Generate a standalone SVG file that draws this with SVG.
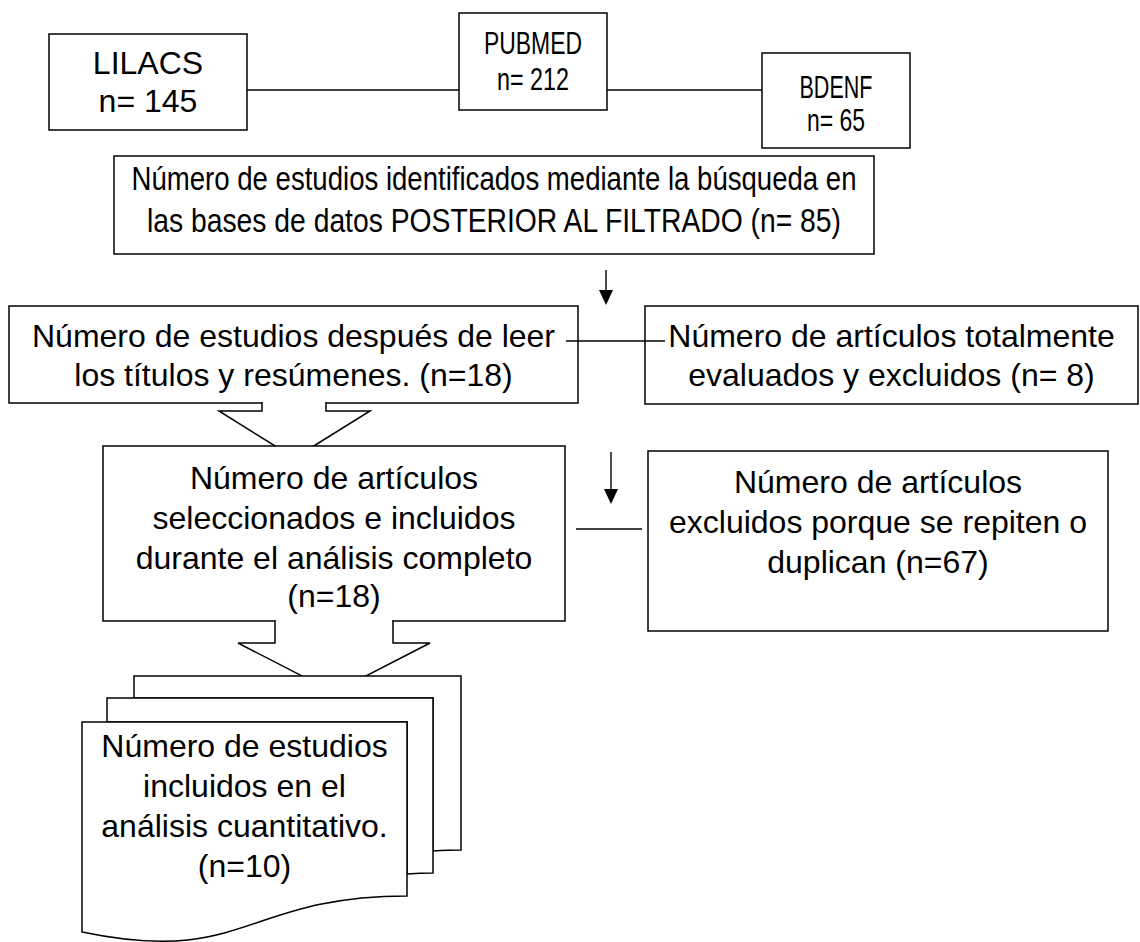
<svg xmlns="http://www.w3.org/2000/svg" width="1140" height="942" viewBox="0 0 1140 942">
<style>
.box{fill:#fff;stroke:#000;stroke-width:1.5}
.ln{fill:none;stroke:#000;stroke-width:1.4}
.blk{fill:#fff;stroke:#000;stroke-width:1.5;stroke-linejoin:miter}
.t{font-family:"Liberation Sans",Arial,sans-serif;font-size:32px;fill:#000;text-anchor:middle}
.tn{font-family:"Liberation Sans",Arial,sans-serif;font-size:32px;fill:#000;text-anchor:middle}
.tb{font-family:"Liberation Sans",Arial,sans-serif;font-size:33px;fill:#000;text-anchor:middle}
</style>

<g id="connectors">
<line class="ln" x1="247" y1="90" x2="459" y2="90"/>
<line class="ln" x1="607" y1="90" x2="762" y2="90"/>
<line class="ln" x1="606" y1="270" x2="606" y2="291"/>
<path d="M599,290 L613,290 L606,305 Z" fill="#000"/>
<line class="ln" x1="611" y1="452" x2="611" y2="490"/>
<path d="M604,489 L618,489 L611,504 Z" fill="#000"/>
</g>

<g id="lilacs">
<rect class="box" x="49" y="34" width="198" height="96"/>
<text class="t" x="148" y="74">LILACS</text>
<text class="t" x="148" y="112">n= 145</text>
</g>

<g id="pubmed">
<rect class="box" x="459" y="13" width="148" height="97"/>
<text class="tn" x="533" y="54" textLength="98" lengthAdjust="spacingAndGlyphs">PUBMED</text>
<text class="tn" x="533" y="90" textLength="72" lengthAdjust="spacingAndGlyphs">n= 212</text>
</g>

<g id="bdenf">
<rect class="box" x="762" y="53" width="148" height="95"/>
<text class="tn" x="836" y="98" textLength="73" lengthAdjust="spacingAndGlyphs">BDENF</text>
<text class="tn" x="836" y="131" textLength="58" lengthAdjust="spacingAndGlyphs">n= 65</text>
</g>

<g id="identificados">
<rect class="box" x="114" y="156" width="760" height="98"/>
<text class="tb" x="494" y="190" textLength="725" lengthAdjust="spacingAndGlyphs">Número de estudios identificados mediante la búsqueda en</text>
<text class="tb" x="494" y="232" textLength="694" lengthAdjust="spacingAndGlyphs">las bases de datos POSTERIOR AL FILTRADO (n= 85)</text>
</g>

<g id="titulos">
<rect class="box" x="9" y="306" width="569" height="97"/>
<text class="t" x="293.5" y="347">Número de estudios después de leer</text>
<text class="t" x="293.5" y="386">los títulos y resúmenes. (n=18)</text>
</g>

<g id="excluidos8">
<rect class="box" x="645" y="306" width="493" height="98"/>
<text class="t" x="891.5" y="347">Número de artículos totalmente</text>
<text class="t" x="891.5" y="386">evaluados y excluidos (n= 8)</text>
</g>

<g id="link1">
<line class="ln" x1="566" y1="341" x2="665" y2="341"/>
</g>

<g id="blockarrow1">
<path class="blk" d="M262,402 V411 H219 L294.5,458 L370,411 H326 V402"/>
</g>

<g id="seleccionados">
<rect class="box" x="103" y="446" width="462" height="175"/>
<text class="t" x="334" y="489">Número de artículos</text>
<text class="t" x="334" y="529">seleccionados e incluidos</text>
<text class="t" x="334" y="569">durante el análisis completo</text>
<text class="t" x="334" y="607">(n=18)</text>
</g>

<g id="link2">
<line class="ln" x1="576" y1="529" x2="642" y2="529"/>
</g>

<g id="excluidos67">
<rect class="box" x="648" y="451" width="460" height="180"/>
<text class="t" x="878" y="493">Número de artículos</text>
<text class="t" x="878" y="533">excluidos porque se repiten o</text>
<text class="t" x="878" y="573">duplican (n=67)</text>
</g>

<g id="blockarrow2">
<path class="blk" d="M275,620 V643 H238 L334,692.5 L430,643 H393 V620"/>
</g>

<g id="incluidos">
<path class="blk" d="M134,698 V676 H461 V850 C449,850 433,851 433,851 V698 Z"/>
<path class="blk" d="M107,722 V698 H433 V873 C420,873 407,874 407,874 V722 Z"/>
<path class="blk" d="M82,932 C245,966 245,896 407,896 V722 H82 Z"/>
<text class="t" x="244.5" y="757">Número de estudios</text>
<text class="t" x="244.5" y="797">incluidos en el</text>
<text class="t" x="244.5" y="837">análisis cuantitativo.</text>
<text class="t" x="244.5" y="877">(n=10)</text>
</g>
</svg>
